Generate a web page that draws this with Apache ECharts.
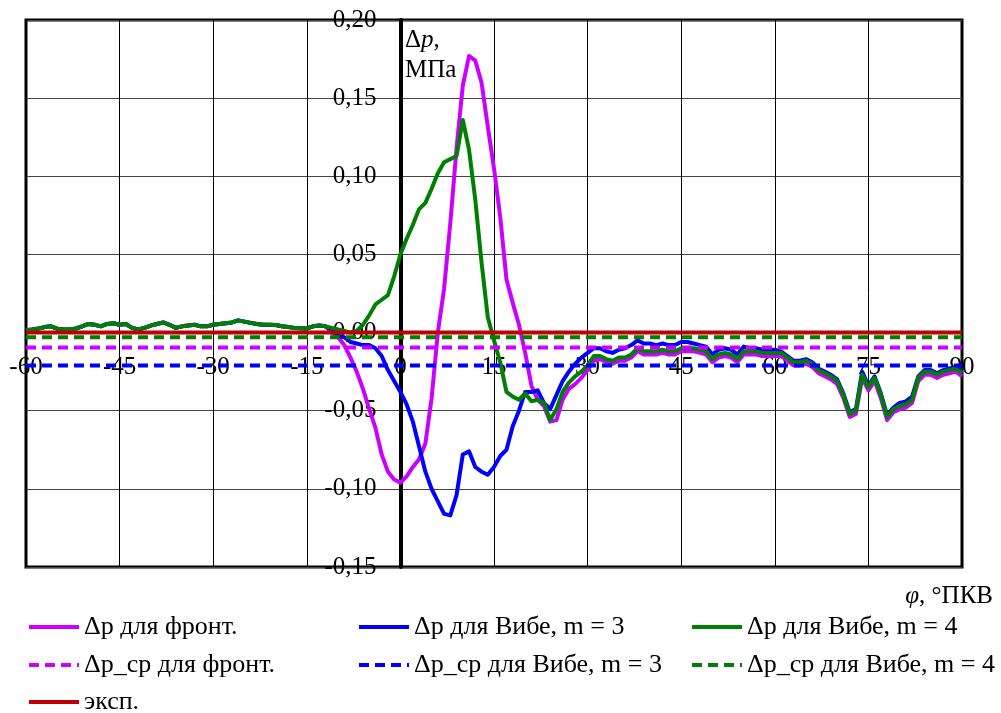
<!DOCTYPE html>
<html>
<head>
<meta charset="utf-8">
<title>Δp</title>
<script src="https://cdn.jsdelivr.net/npm/echarts@6/dist/echarts.min.js"></script>
<style>
  html, body {margin: 0; padding: 0; background: #fff;}
  #chart {width: 1001px; height: 713px;}
</style>
</head>
<body>
<div id="chart"></div>
<script>
// angle grid, °ПКВ, step 1 from -60 to 90
const angles = Array.from({length: 151}, (v, i) => i - 60);

// before ignition all three model curves coincide (-60 .. -13)
const preIgnition = [
  0.0015, 0.002, 0.0026, 0.0035, 0.004, 0.0025, 0.002, 0.002, 0.0026, 0.004,
  0.0055, 0.005, 0.004, 0.0055, 0.006, 0.005, 0.0055, 0.003, 0.002, 0.003,
  0.0045, 0.0055, 0.0065, 0.005, 0.003, 0.004, 0.0045, 0.005, 0.004, 0.004,
  0.005, 0.0055, 0.006, 0.0065, 0.0078, 0.007, 0.0062, 0.0055, 0.005, 0.005,
  0.0048, 0.004, 0.0035, 0.003, 0.0028, 0.0026, 0.004, 0.0045
];

// -12 .. 90
const frontValues = [
  0.004, 0.000, -0.003, -0.008, -0.016, -0.025, -0.036, -0.049, -0.061, -0.078,
  -0.089, -0.094, -0.096, -0.092, -0.086, -0.081, -0.071, -0.042, 0.000, 0.028,
  0.070, 0.118, 0.158, 0.177, 0.174, 0.160, 0.132, 0.105, 0.074, 0.034,
  0.019, 0.005, -0.013, -0.034, -0.043, -0.047, -0.057, -0.056, -0.043, -0.036,
  -0.033, -0.029, -0.024, -0.018, -0.017, -0.019, -0.020, -0.018, -0.018, -0.016,
  -0.012, -0.014, -0.014, -0.014, -0.013, -0.014, -0.014, -0.012, -0.012, -0.012,
  -0.013, -0.014, -0.019, -0.016, -0.015, -0.016, -0.019, -0.014, -0.014, -0.014,
  -0.015, -0.015, -0.015, -0.015, -0.018, -0.021, -0.021, -0.020, -0.022, -0.026,
  -0.028, -0.030, -0.033, -0.042, -0.054, -0.052, -0.029, -0.037, -0.031, -0.042,
  -0.056, -0.051, -0.049, -0.048, -0.045, -0.031, -0.027, -0.027, -0.029, -0.027,
  -0.026, -0.025, -0.028
];

const vibe3Values = [
  0.004, 0.002, -0.002, -0.003, -0.006, -0.007, -0.008, -0.008, -0.010, -0.015,
  -0.024, -0.031, -0.038, -0.046, -0.057, -0.073, -0.089, -0.100, -0.108, -0.116,
  -0.117, -0.104, -0.078, -0.076, -0.086, -0.089, -0.091, -0.086, -0.079, -0.075,
  -0.060, -0.050, -0.038, -0.038, -0.037, -0.045, -0.049, -0.040, -0.031, -0.025,
  -0.020, -0.016, -0.013, -0.010, -0.010, -0.012, -0.013, -0.011, -0.010, -0.008,
  -0.005, -0.007, -0.007, -0.008, -0.007, -0.008, -0.008, -0.006, -0.006, -0.007,
  -0.008, -0.009, -0.014, -0.011, -0.010, -0.011, -0.014, -0.009, -0.010, -0.010,
  -0.011, -0.011, -0.011, -0.012, -0.015, -0.018, -0.018, -0.017, -0.019, -0.023,
  -0.025, -0.027, -0.030, -0.039, -0.051, -0.049, -0.025, -0.034, -0.028, -0.039,
  -0.053, -0.048, -0.045, -0.044, -0.041, -0.028, -0.024, -0.024, -0.026, -0.024,
  -0.023, -0.022, -0.025
];

const vibe4Values = [
  0.004, 0.003, 0.002, 0.001, 0.000, 0.001, 0.005, 0.011, 0.018, 0.021,
  0.024, 0.036, 0.050, 0.060, 0.069, 0.079, 0.083, 0.092, 0.102, 0.109,
  0.111, 0.113, 0.136, 0.117, 0.085, 0.045, 0.010, -0.005, -0.019, -0.038,
  -0.041, -0.043, -0.039, -0.044, -0.043, -0.045, -0.056, -0.049, -0.038, -0.032,
  -0.028, -0.025, -0.021, -0.015, -0.015, -0.017, -0.018, -0.016, -0.016, -0.014,
  -0.010, -0.012, -0.012, -0.012, -0.011, -0.012, -0.012, -0.010, -0.010, -0.010,
  -0.011, -0.012, -0.017, -0.014, -0.013, -0.014, -0.017, -0.012, -0.012, -0.012,
  -0.013, -0.013, -0.013, -0.013, -0.016, -0.019, -0.019, -0.018, -0.020, -0.024,
  -0.026, -0.028, -0.031, -0.040, -0.052, -0.050, -0.027, -0.035, -0.029, -0.040,
  -0.054, -0.049, -0.047, -0.046, -0.043, -0.029, -0.025, -0.025, -0.027, -0.025,
  -0.024, -0.023, -0.026
];

// mean levels and experiment
const frontMean = -0.0095;
const vibe3Mean = -0.021;
const vibe4Mean = -0.003;
const expValue = 0;

const names = [
  'Δp для фронт.', 'Δp для Вибе, m = 3', 'Δp для Вибе, m = 4',
  'Δp_ср для фронт.', 'Δp_ср для Вибе, m = 3', 'Δp_ср для Вибе, m = 4',
  'эксп.'
];

const FONT = "'Liberation Serif', 'Times New Roman', serif";
const MAGENTA = '#cc00ff';
const BLUE = '#0000ff';
const GREEN = '#008000';
const RED = '#c00000';

// plot box
const G_LEFT = 26, G_RIGHT = 39, G_TOP = 20, G_BOTTOM = 146;
const X_MIN = -60, X_MAX = 90, Y_MIN = -0.15, Y_MAX = 0.2;
const plotW = 1001 - G_LEFT - G_RIGHT;
const plotH = 713 - G_TOP - G_BOTTOM;

const curve = (values) => angles.map((a, i) => [a, preIgnition.concat(values)[i]]);
const level = (v) => angles.map(a => [a, v]);

const lineSeries = (name, data, color, dashed) => ({
  name: name,
  type: 'line',
  data: data,
  symbol: 'none',
  silent: true,
  lineStyle: {
    color: color,
    width: 4,
    type: dashed ? [10, 6] : 'solid',
    join: 'round'
  },
  itemStyle: {color: color}
});

// legend grid: 3 columns, 3 rows (one legend per entry)
const legendCols = [27, 357, 690];
const legendRows = [614, 652, 689];
const legendSlots = [[0, 0], [1, 0], [2, 0], [0, 1], [1, 1], [2, 1], [0, 2]];

const legendItem = (name, i) => ({
  left: legendCols[legendSlots[i][0]],
  top: legendRows[legendSlots[i][1]],
  data: [name],
  itemWidth: 50,
  itemHeight: 4,
  itemStyle: {opacity: 0},
  lineStyle: {width: 4},
  textStyle: {fontFamily: FONT, fontSize: 26, color: '#000'},
  padding: 0,
  selectedMode: false
});

const chart = echarts.init(document.getElementById('chart'));

chart.setOption({
  animation: false,
  backgroundColor: '#fff',
  grid: {
    left: G_LEFT, right: G_RIGHT, top: G_TOP, bottom: G_BOTTOM,
    outerBoundsMode: 'none',
    containLabel: false,
    show: true,
    borderColor: '#000',
    borderWidth: 3
  },
  xAxis: {
    type: 'value',
    min: X_MIN, max: X_MAX, interval: 15,
    position: 'bottom',
    // axis crosses at Δp = 0
    offset: -plotH * (0 - Y_MIN) / (Y_MAX - Y_MIN),
    axisLine: {onZero: false, lineStyle: {color: '#000', width: 2}},
    axisTick: {show: false},
    axisLabel: {
      margin: 22,
      fontFamily: FONT, fontSize: 25, color: '#000',
      showMinLabel: true, showMaxLabel: true
    },
    splitLine: {lineStyle: {color: '#000', width: 1}}
  },
  yAxis: {
    type: 'value',
    min: Y_MIN, max: Y_MAX, interval: 0.05,
    position: 'left',
    // axis crosses at φ = 0
    offset: -plotW * (0 - X_MIN) / (X_MAX - X_MIN),
    axisLine: {onZero: false, lineStyle: {color: '#000', width: 4}},
    axisTick: {show: false},
    axisLabel: {
      margin: 24,
      fontFamily: FONT, fontSize: 25, color: '#000',
      showMinLabel: true, showMaxLabel: true,
      formatter: v => v.toFixed(2).replace('.', ',').replace('-0,00', '0,00')
    },
    splitLine: {lineStyle: {color: '#444', width: 1}}
  },
  legend: names.map(legendItem),
  graphic: [
    {
      type: 'text', left: 405, top: 28,
      style: {
        text: '{n|Δ}{i|p}{n|,}\n{n|МПа}',
        rich: {
          n: {fontFamily: FONT, fontSize: 25, fill: '#000', lineHeight: 30},
          i: {fontFamily: FONT, fontSize: 25, fontStyle: 'italic', fill: '#000', lineHeight: 30}
        }
      }
    },
    {
      type: 'text', right: 8, top: 584,
      style: {
        text: '{i|φ}{n|, °ПКВ}',
        rich: {
          n: {fontFamily: FONT, fontSize: 25, fill: '#000'},
          i: {fontFamily: FONT, fontSize: 25, fontStyle: 'italic', fill: '#000'}
        }
      }
    }
  ],
  series: [
    lineSeries(names[0], curve(frontValues), MAGENTA, false),
    lineSeries(names[1], curve(vibe3Values), BLUE, false),
    lineSeries(names[2], curve(vibe4Values), GREEN, false),
    lineSeries(names[3], level(frontMean), MAGENTA, true),
    lineSeries(names[4], level(vibe3Mean), BLUE, true),
    lineSeries(names[5], level(vibe4Mean), GREEN, true),
    lineSeries(names[6], level(expValue), RED, false)
  ]
});
</script>
</body>
</html>
